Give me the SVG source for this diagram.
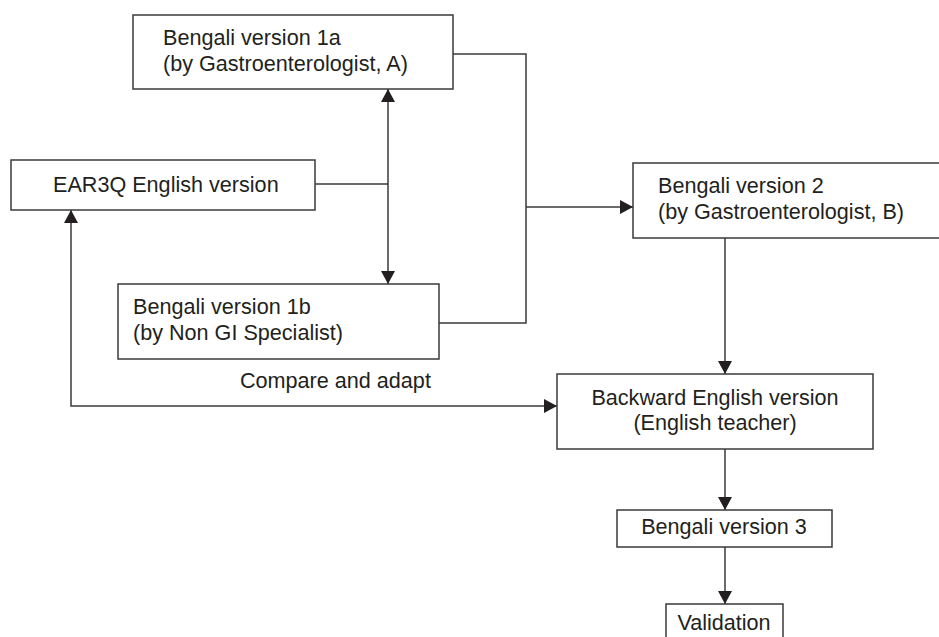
<svg xmlns="http://www.w3.org/2000/svg" width="939" height="637" viewBox="0 0 939 637">
<style>
.box{fill:#fff;stroke:#3a3a3a;stroke-width:1.5}
.ln{fill:none;stroke:#3a3a3a;stroke-width:1.5}
text{font-family:"Liberation Sans",Arial,sans-serif;font-size:21.6px;fill:#231f20}
</style>
<defs>
<marker id="ah" markerUnits="userSpaceOnUse" markerWidth="13" markerHeight="14" refX="13" refY="7" orient="auto-start-reverse">
<path d="M0,0 L13,7 L0,14 z" fill="#231f20"/>
</marker>
</defs>
<rect width="939" height="637" fill="#fff"/>
<g id="connectors">
<path class="ln" d="M388,89 L388,284" marker-start="url(#ah)" marker-end="url(#ah)"/>
<path class="ln" d="M315,184 L388,184"/>
<path class="ln" d="M453,54 L526,54 L526,323 L439,323"/>
<path class="ln" d="M526,207 L633,207" marker-end="url(#ah)"/>
<path class="ln" d="M725,238 L725,374" marker-end="url(#ah)"/>
<path class="ln" d="M71,210 L71,406 L557,406" marker-start="url(#ah)" marker-end="url(#ah)"/>
<path class="ln" d="M725,449 L725,510" marker-end="url(#ah)"/>
<path class="ln" d="M725,547 L725,604" marker-end="url(#ah)"/>
</g>
<g id="n1a">
<rect class="box" x="133" y="15" width="320" height="74"/>
<text x="163" y="45">Bengali version 1a</text>
<text x="163" y="71">(by Gastroenterologist, A)</text>
</g>
<g id="ear3q">
<rect class="box" x="11" y="160" width="304" height="50"/>
<text x="53" y="192">EAR3Q English version</text>
</g>
<g id="n1b">
<rect class="box" x="118" y="284" width="321" height="75"/>
<text x="133" y="314">Bengali version 1b</text>
<text x="133" y="340">(by Non GI Specialist)</text>
</g>
<g id="n2">
<rect class="box" x="633" y="163" width="315" height="75"/>
<text x="658" y="193">Bengali version 2</text>
<text x="658" y="219">(by Gastroenterologist, B)</text>
</g>
<g id="label">
<text x="240" y="388">Compare and adapt</text>
</g>
<g id="backward">
<rect class="box" x="557" y="374" width="316" height="75"/>
<text x="715" y="405" text-anchor="middle">Backward English version</text>
<text x="715" y="430" text-anchor="middle">(English teacher)</text>
</g>
<g id="n3">
<rect class="box" x="617" y="510" width="215" height="37"/>
<text x="724" y="534" text-anchor="middle">Bengali version 3</text>
</g>
<g id="validation">
<rect class="box" x="666" y="604" width="117" height="45"/>
<text x="724" y="630" text-anchor="middle">Validation</text>
</g>
</svg>
